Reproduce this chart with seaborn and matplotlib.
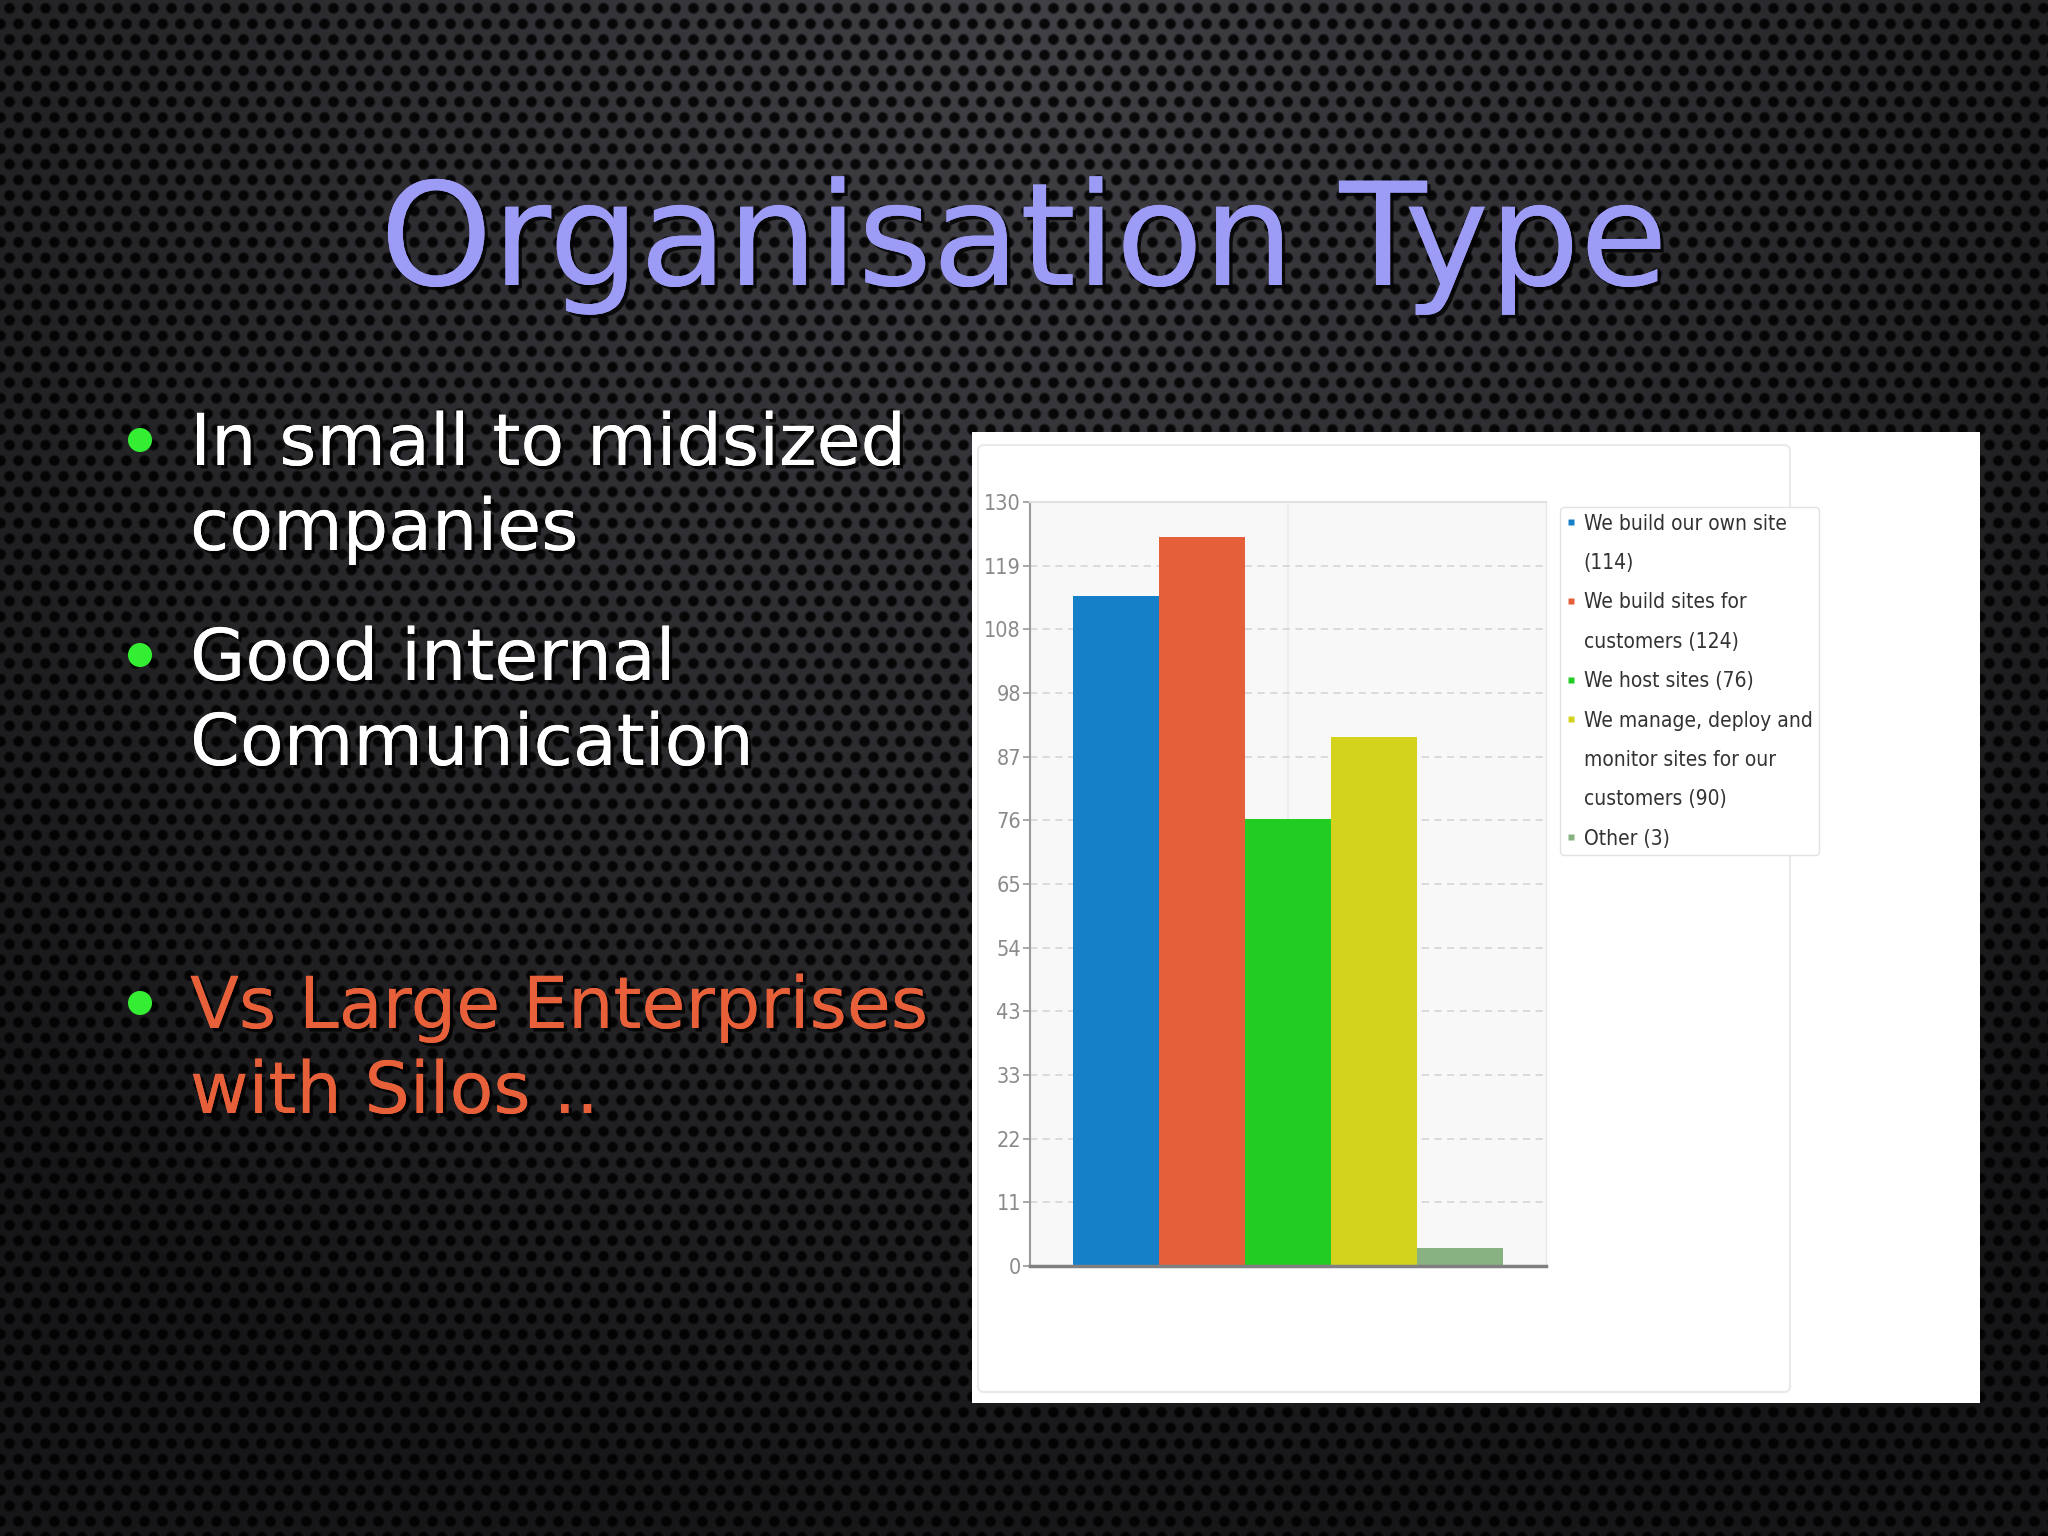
import numpy as np
import pandas as pd
import matplotlib
matplotlib.use("Agg")
import matplotlib.pyplot as plt
import matplotlib.patheffects as pe
from matplotlib.patches import Rectangle, FancyBboxPatch
from matplotlib.lines import Line2D
from matplotlib import font_manager as fm
import seaborn as sns

# ---------------- data ----------------
categories = ["We build our own site", "We build sites for customers", "We host sites",
              "We manage, deploy and monitor sites for our customers", "Other"]
# legend text, wrapped as in the original (the value is appended to the last line)
legend_lines = [["We build our own site", ""],
                ["We build sites for", "customers "],
                ["We host sites "],
                ["We manage, deploy and", "monitor sites for our", "customers "],
                ["Other "]]
values = [114, 124, 76, 90, 3]
bar_colors = ["#1580c8", "#e5603a", "#22cc22", "#d3d31d", "#88b282"]
y_tick_labels = ["0", "11", "22", "33", "43", "54", "65", "76", "87", "98", "108", "119", "130"]
y_max = 130

title_text = "Organisation Type"
bullets = [
    (["In small to midsized", "companies"], "#ffffff"),
    (["Good internal", "Communication"], "#ffffff"),
    (["Vs Large Enterprises", "with Silos .."], "#e8603a"),
]

# ---------------- style ----------------
sns.set_theme(style="white")
plt.rcParams["font.family"] = ["DejaVu Sans"]


def find_narrow():
    cond = ("condensed", "semi-condensed", "extra-condensed", "ultra-condensed")
    prefs = ["Liberation Sans Narrow", "DejaVu Sans", "Roboto", "Noto Sans", "Open Sans",
             "Liberation Sans", "Lato", "Inter"]
    found = []
    for f in fm.fontManager.ttflist:
        nm = f.name
        is_narrow = (str(f.stretch) in cond) or ("Narrow" in nm) or ("Condensed" in nm)
        if not is_narrow or f.style != "normal":
            continue
        w = f.weight
        try:
            w = int(w)
        except (TypeError, ValueError):
            w = 400 if str(w) in ("normal", "regular", "book") else 700
        if w > 450 or w < 350:
            continue
        rank = len(prefs)
        for i, p in enumerate(prefs):
            if nm.startswith(p):
                rank = i
                break
        found.append((rank, f.fname))
    if found:
        found.sort()
        return fm.FontProperties(fname=found[0][1]), True
    return fm.FontProperties(family="DejaVu Sans"), False


narrow_fp, has_narrow = find_narrow()

W, H = 2048, 1536
fig = plt.figure(figsize=(W / 100, H / 100), dpi=100)

# background: dark honeycomb with a soft light toward the top centre
yy, xx = np.mgrid[0:H, 0:W].astype(float)
r = np.sqrt(((xx - W * 0.5) / (W * 0.7)) ** 2 + ((yy - H * 0.02) / (H * 1.0)) ** 2)
base = 0.23 - 0.15 * np.clip(r, 0, 1)
px, py = 18.0, 15.6
row = np.floor(yy / py)
xo = xx + (row % 2) * px / 2
dx = np.mod(xo, px) - px / 2
dy = np.mod(yy, py) - py / 2
d = np.sqrt(dx ** 2 + dy ** 2)
hole = np.clip((d - 4.0) / 2.5, 0, 1)
val = base * (0.15 + 0.95 * hole)
img = np.dstack([val, val, val * 1.08]).clip(0, 1)
bg = fig.add_axes([0, 0, 1, 1], zorder=0)
bg.imshow(img, aspect="auto", extent=[0, W, H, 0], interpolation="bilinear")
bg.set_xlim(0, W)
bg.set_ylim(H, 0)
bg.axis("off")

# overlay in pixel coordinates for slide elements
ov = fig.add_axes([0, 0, 1, 1], zorder=1)
ov.set_xlim(0, W)
ov.set_ylim(H, 0)
ov.axis("off")
ov.patch.set_alpha(0)

ov.add_patch(Rectangle((972, 432), 1008, 971, facecolor="white", edgecolor="none"))
ov.add_patch(FancyBboxPatch((978, 445), 812, 947, boxstyle="round,pad=0,rounding_size=6",
                            facecolor="white", edgecolor="#e9e9ec", linewidth=1.5))

shadow = [pe.withSimplePatchShadow(offset=(2.5, -2.5), shadow_rgbFace="black", alpha=0.8), pe.Normal()]

ov.text(1024, 285, title_text, fontsize=103, color="#9c9cf6", ha="center", va="baseline",
        path_effects=shadow)

baselines = [(465, 550), (680, 765), (1028, 1113)]
dots_y = [440, 655, 1003]
for (lines, col), bl, dy_ in zip(bullets, baselines, dots_y):
    for line, b in zip(lines, bl):
        ov.text(190, b, line, fontsize=51.5, color=col, ha="left", va="baseline", path_effects=shadow)
    ov.scatter([140], [dy_], s=300, color="#33ee33", edgecolors="none", zorder=3)

# ---------------- chart ----------------
L, R, T, B = 1030, 1546, 502, 1266
ax = fig.add_axes([L / W, 1 - B / H, (R - L) / W, (B - T) / H], zorder=2)
df = pd.DataFrame({"category": categories, "value": values})
sns.barplot(data=df, x="category", y="value", hue="category", palette=bar_colors,
            width=1.0, dodge=False, legend=False, saturation=1, linewidth=0, ax=ax, zorder=3)
ax.set_facecolor("#f8f8f9")
ax.set_xlim(-1.0, 5.0)
ax.set_ylim(0, y_max)
yt = np.linspace(0, y_max, len(y_tick_labels))
ax.set_yticks(yt)
ax.set_yticklabels(y_tick_labels)
for lab in ax.get_yticklabels():
    lab.set_fontproperties(narrow_fp)
    lab.set_fontsize(15.5 if has_narrow else 13)
ax.set_xticks([2])
ax.set_xticklabels([""])
ax.set_xlabel("")
ax.set_ylabel("")
ax.tick_params(axis="y", length=5, width=1.2, color="#9a9a9a", labelcolor="#8a8a8a",
               pad=1.5, left=True)
ax.tick_params(axis="x", length=0)
ax.set_axisbelow(True)
ax.yaxis.grid(True, linestyle=(0, (4, 3)), color="#d8d8d8", linewidth=1.3)
ax.xaxis.grid(True, linestyle="-", color="#ebebeb", linewidth=1.2)
ax.spines["left"].set_color("#9a9a9a")
ax.spines["left"].set_linewidth(1.5)
ax.spines["bottom"].set_color("#808080")
ax.spines["bottom"].set_linewidth(2.5)
ax.spines["top"].set_color("#e2e2e2")
ax.spines["top"].set_linewidth(1.5)
ax.spines["right"].set_color("#e8e8e8")
ax.spines["right"].set_linewidth(1.0)
for s in ax.spines.values():
    s.set_visible(True)
    s.set_zorder(4)

# legend: one row per text line, marker only on the first line of each entry
leg_size = 15 if has_narrow else 11.5
handles, labels = [], []
for lines, v, c in zip(legend_lines, values, bar_colors):
    lines = list(lines)
    lines[-1] = f"{lines[-1]}({v})"
    for i, line in enumerate(lines):
        handles.append(Line2D([0], [0], marker="s", linestyle="none", markersize=4.5,
                              markerfacecolor=c if i == 0 else "none", markeredgecolor="none"))
        labels.append(line)
lp = narrow_fp.copy()
lp.set_size(leg_size)
leg = ax.legend(handles, labels, loc="upper left", bbox_to_anchor=(1560 / W, 1 - 507 / H),
                bbox_transform=fig.transFigure, borderaxespad=0, frameon=True, fancybox=True,
                framealpha=1, edgecolor="#e2e2e2", facecolor="white",
                handlelength=0.4, handletextpad=0.42, borderpad=0.32,
                labelspacing=0.93, prop=lp)
for t in leg.get_texts():
    t.set_color("#333333")

fig.savefig("out.png", dpi=100)
